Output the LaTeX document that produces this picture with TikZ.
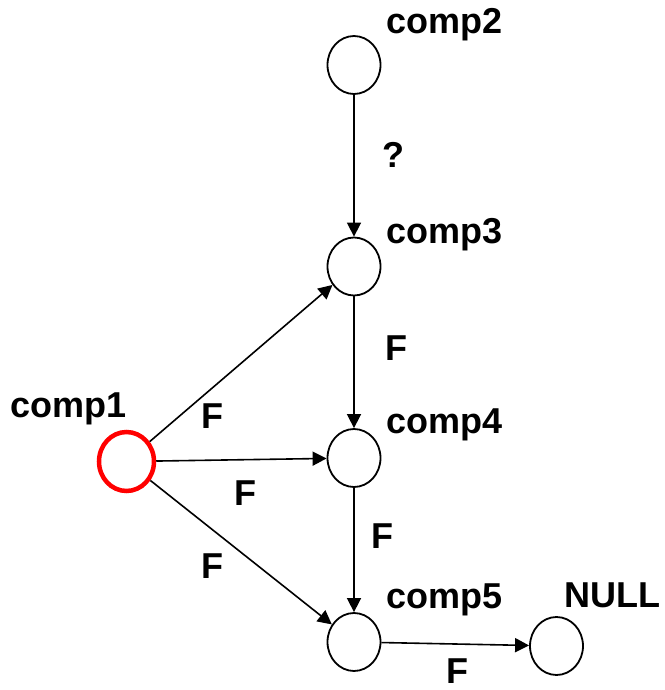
\documentclass[tikz,border=0pt]{standalone}
\usepackage{fontspec}
\setmainfont{Liberation Sans}
\usetikzlibrary{arrows.meta,shapes.geometric}
\begin{document}
\begin{tikzpicture}[x=1pt,y=-1pt,
  comp/.style={ellipse,draw=black,line width=1.8pt,minimum width=53pt,minimum height=58pt,inner sep=0pt},
  start/.style={comp,draw=red,line width=4.5pt,minimum width=55pt,minimum height=59pt},
  lbl/.style={font=\fontsize{36}{40}\selectfont\bfseries,inner sep=0pt,anchor=base west},
  elbl/.style={font=\fontsize{36}{40}\selectfont\bfseries,inner sep=0pt,anchor=center},
  arr/.style={line width=1.6pt,-{Triangle[length=14pt,width=14pt]}}]
\useasboundingbox (0,0) rectangle (664,690);
\node[comp] (c2) at (354,65) {};
\node[comp] (c3) at (354,266.5) {};
\node[comp] (c4) at (354,458) {};
\node[comp] (c5) at (354,642) {};
\node[comp] (cn) at (556.5,646) {};
\node[start] (c1) at (126.5,461.5) {};
\node[lbl] (l2) at (386,34) {comp2};
\node[lbl] (l3) at (386,243) {comp3};
\node[lbl] (l4) at (386,433) {comp4};
\node[lbl] (l5) at (386,608) {comp5};
\node[lbl] (ln) at (564,607) {NULL};
\node[lbl] (l1) at (10,417) {comp1};
\draw[arr] (c2) -- (c3);
\draw[arr] (c3) -- (c4);
\draw[arr] (c4) -- (c5);
\draw[arr] (c5) -- (cn);
\draw[arr] (c1) -- (c3);
\draw[arr] (c1) -- (c4);
\draw[arr] (c1) -- (c5);
\node[elbl] (q) at (393,155) {?};
\node[elbl] (f34) at (396,348) {F};
\node[elbl] (f45) at (382.5,536) {F};
\node[elbl] (f13) at (212,416) {F};
\node[elbl] (f14) at (245.5,493) {F};
\node[elbl] (f15) at (212,566.5) {F};
\node[elbl] (f5n) at (457,671) {F};
\end{tikzpicture}
\end{document}
